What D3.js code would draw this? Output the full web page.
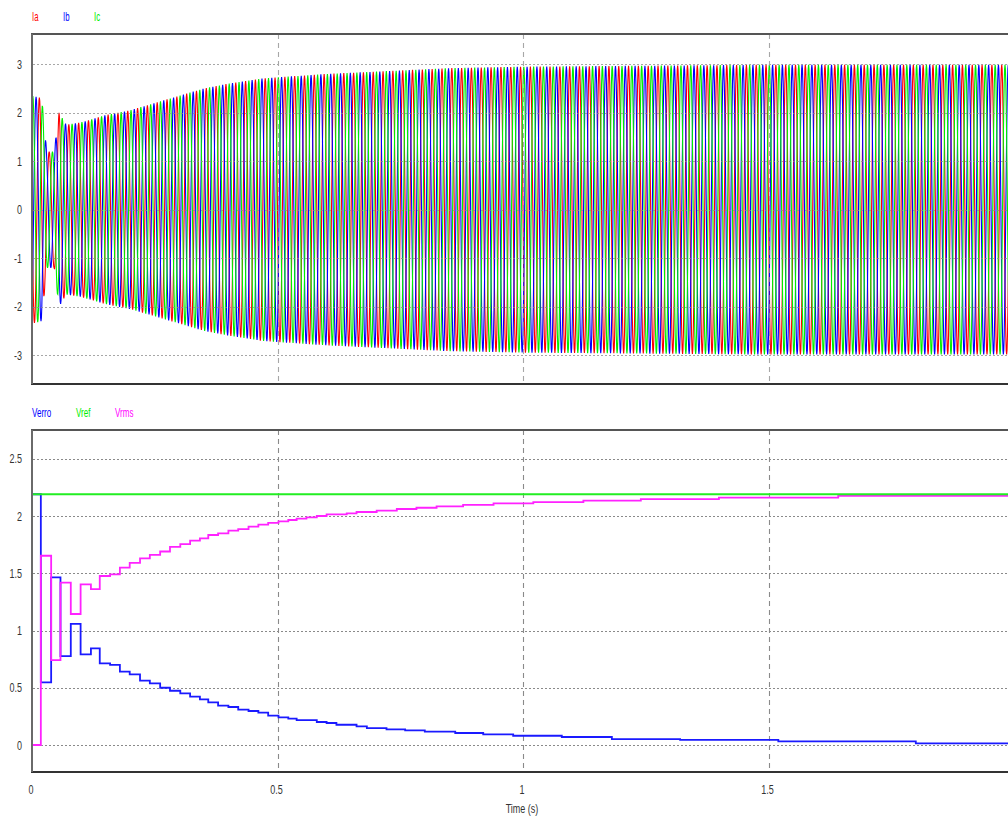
<!DOCTYPE html>
<html>
<head>
<meta charset="utf-8">
<script src="https://cdn.jsdelivr.net/npm/d3@7"></script>
<style>
    body { margin: 0; background: #fff; }
    text { font-family: Arial, "Liberation Sans", sans-serif; }
</style>
</head>
<body>
<div id="chart"></div>
<script>
// ---- top panel: three-phase currents ----
const currentNames = ["Ia", "Ib", "Ic"];
const currentColors = ["#ff0000", "#0000ff", "#00ee00"];
// peak amplitude at these times (s)
const envTimes = [0, 0.02, 0.03, 0.045, 0.055, 0.07, 0.1, 0.15, 0.2, 0.25, 0.3, 0.35, 0.4, 0.47, 0.6, 0.85, 1.0, 1.5, 2.0];
const envPeaks = [2.35, 2.3, 1.2, 1.2, 2.0, 1.75, 1.8, 1.95, 2.05, 2.2, 2.35, 2.5, 2.6, 2.71, 2.8, 2.92, 2.95, 2.99, 2.99];
// one 50 Hz cycle as 24 samples (normalised levels)
const cycleLevels = [0, 0.26, 0.5, 0.71, 0.87, 0.97, 1, 0.97, 0.87, 0.71, 0.5, 0.26,
    0, -0.26, -0.5, -0.71, -0.87, -0.97, -1, -0.97, -0.87, -0.71, -0.5, -0.26];
// where each phase starts inside that cycle (in samples)
const phaseOffsets = [12, 20, 4];
const samplesPerSecond = 1200;
const topTicks = [-3, -2, -1, 0, 1, 2, 3];

// ---- bottom panel: voltage loop ----
const voltNames = ["Verro", "Vref", "Vrms"];
const voltColors = ["#0000ff", "#00ee00", "#ff00ff"];
const vref = 2.19;
const vrmsTimes = [0, 0.018, 0.039, 0.058, 0.079, 0.099, 0.120, 0.138, 0.159, 0.179, 0.199, 0.220, 0.240, 0.261, 0.281, 0.302, 0.322, 0.342,
    0.359, 0.379, 0.400, 0.420, 0.441, 0.461, 0.481, 0.502, 0.522, 0.539, 0.559, 0.580, 0.600, 0.641, 0.661, 0.702, 0.743, 0.783, 0.824,
    0.878, 0.940, 1.021, 1.123, 1.240, 1.399, 1.642, 2.0];
const vrmsValues = [0, 1.653, 0.742, 1.418, 1.144, 1.403, 1.362, 1.476, 1.49, 1.55, 1.59, 1.63, 1.66, 1.69, 1.73, 1.755, 1.785, 1.805,
    1.834, 1.849, 1.872, 1.886, 1.907, 1.925, 1.94, 1.953, 1.965, 1.977, 1.988, 2.0, 2.015, 2.023, 2.035, 2.047, 2.061, 2.072, 2.084,
    2.098, 2.11, 2.122, 2.134, 2.148, 2.16, 2.175, 2.175];
const verroTimes = [0, 0.018, 0.039, 0.058, 0.079, 0.099, 0.120, 0.138, 0.159, 0.179, 0.199, 0.220, 0.240, 0.261, 0.281, 0.302, 0.322, 0.342,
    0.359, 0.379, 0.400, 0.420, 0.441, 0.461, 0.481, 0.502, 0.522, 0.539, 0.580, 0.600, 0.620, 0.661, 0.682, 0.722, 0.760, 0.800,
    0.862, 0.919, 0.980, 1.079, 1.181, 1.320, 1.520, 1.800, 2.0];
const verroValues = [2.19, 0.547, 1.464, 0.777, 1.057, 0.792, 0.844, 0.713, 0.699, 0.64, 0.617, 0.562, 0.539, 0.5, 0.474, 0.451, 0.422, 0.399,
    0.373, 0.344, 0.332, 0.309, 0.297, 0.282, 0.256, 0.242, 0.23, 0.218, 0.201, 0.192, 0.177, 0.163, 0.148, 0.137, 0.128, 0.116,
    0.105, 0.093, 0.081, 0.07, 0.052, 0.044, 0.032, 0.015, 0.015];
const bottomTicks = [0, 0.5, 1, 1.5, 2, 2.5];
const timeTicks = [0, 0.5, 1, 1.5];

// Layout
const W = 1008, H = 816;
const svg = d3.select("#chart").append("svg")
    .attr("width", W).attr("height", H)
    .style("display", "block");

const x = d3.scaleLinear().domain([0, 2]).range([32, 1014]);
const yTop = d3.scaleLinear().domain([-3, 3]).range([355, 64.3]);
const yBot = d3.scaleLinear().domain([0, 2.5]).range([745, 458.75]);
const topBox = { y0: 34, y1: 384 };
const botBox = { y0: 430, y1: 772 };

// narrow text, like the original render
function label(x0, y0, str, anchor, fill, size, sx) {
    svg.append("g")
        .attr("transform", `translate(${x0},${y0}) scale(${sx},1)`)
        .append("text")
        .attr("text-anchor", anchor)
        .attr("fill", fill)
        .style("font-size", size + "px")
        .text(str);
}

svg.append("defs").selectAll("clipPath")
    .data([["clipTop", topBox], ["clipBot", botBox]])
    .enter().append("clipPath")
    .attr("id", d => d[0])
    .append("rect")
    .attr("x", 33).attr("y", d => d[1].y0 + 1)
    .attr("width", 1000).attr("height", d => d[1].y1 - d[1].y0 - 2);

function grid(yScale, ticks, box) {
    const g = svg.append("g");
    g.selectAll(".h").data(ticks).enter().append("line")
        .attr("x1", 33).attr("x2", W)
        .attr("y1", d => Math.round(yScale(d)) + 0.5)
        .attr("y2", d => Math.round(yScale(d)) + 0.5)
        .attr("stroke", "#8a8a8a").attr("stroke-width", 1.2)
        .attr("stroke-dasharray", "2,2");
    g.selectAll(".v").data(timeTicks.slice(1)).enter().append("line")
        .attr("x1", d => Math.round(x(d)) + 0.5).attr("x2", d => Math.round(x(d)) + 0.5)
        .attr("y1", box.y0).attr("y2", box.y1)
        .attr("stroke", "#8a8a8a").attr("stroke-width", 1.1)
        .attr("stroke-dasharray", "5,4");
    return g;
}

function frame(box) {
    svg.append("line").attr("x1", 31).attr("x2", W).attr("y1", box.y0).attr("y2", box.y0)
        .attr("stroke", "#555").attr("stroke-width", 2);
    svg.append("line").attr("x1", 31).attr("x2", W).attr("y1", box.y1).attr("y2", box.y1)
        .attr("stroke", "#333").attr("stroke-width", 2);
    svg.append("line").attr("x1", 32).attr("x2", 32).attr("y1", box.y0).attr("y2", box.y1)
        .attr("stroke", "#6a6a6a").attr("stroke-width", 2);
}

// ---- top panel ----
const envelope = d3.scaleLinear().domain(envTimes).range(envPeaks).clamp(true);
const nSamples = 2 * samplesPerSecond;
const phaseData = phaseOffsets.map(off =>
    d3.range(nSamples + 1).map(k => {
        const t = k / samplesPerSecond;
        return [t, envelope(t) * cycleLevels[(k + off) % cycleLevels.length]];
    })
);

const topLine = d3.line()
    .x(d => x(d[0]))
    .y(d => yTop(d[1]));

svg.append("g").attr("clip-path", "url(#clipTop)")
    .selectAll("path").data(phaseData).enter().append("path")
    .attr("d", topLine)
    .attr("fill", "none")
    .attr("stroke", (d, i) => currentColors[i])
    .attr("stroke-width", 1.1);

grid(yTop, topTicks, topBox).attr("opacity", 0.75);
frame(topBox);

topTicks.forEach(v => label(22, yTop(v) + 4.5, String(v), "end", "#333", 12.5, 0.72));
[32, 63, 94].forEach((px, i) => label(px, 20.5, currentNames[i], "start", currentColors[i], 13, 0.6));

// ---- bottom panel ----
grid(yBot, bottomTicks, botBox);

const verroData = verroTimes.map((t, i) => [t, verroValues[i]]);
const vrmsData = vrmsTimes.map((t, i) => [t, vrmsValues[i]]);
const vrefData = [[0, vref], [2, vref]];

const botLine = d3.line()
    .x(d => x(d[0]))
    .y(d => yBot(d[1]))
    .curve(d3.curveStepAfter);

const gb = svg.append("g").attr("clip-path", "url(#clipBot)");
gb.append("path").datum(verroData).attr("d", botLine)
    .attr("fill", "none").attr("stroke", "#1a1aff").attr("stroke-width", 1.8);
gb.append("path").datum(vrmsData).attr("d", botLine)
    .attr("fill", "none").attr("stroke", "#ff22ff").attr("stroke-width", 1.8);
gb.append("path").datum(vrefData).attr("d", botLine)
    .attr("fill", "none").attr("stroke", "#22ee22").attr("stroke-width", 1.8);

frame(botBox);

bottomTicks.forEach(v => label(22, yBot(v) + 4.5, String(v), "end", "#333", 12.5, 0.72));
[32, 76, 115].forEach((px, i) => label(px, 416.5, voltNames[i], "start", voltColors[i], 13, 0.62));

timeTicks.forEach(v => label(x(v) - 1, 794, String(v), "middle", "#333", 12.5, 0.72));
label(x(1) - 1, 813, "Time (s)", "middle", "#333", 12, 0.75);
</script>
</body>
</html>
